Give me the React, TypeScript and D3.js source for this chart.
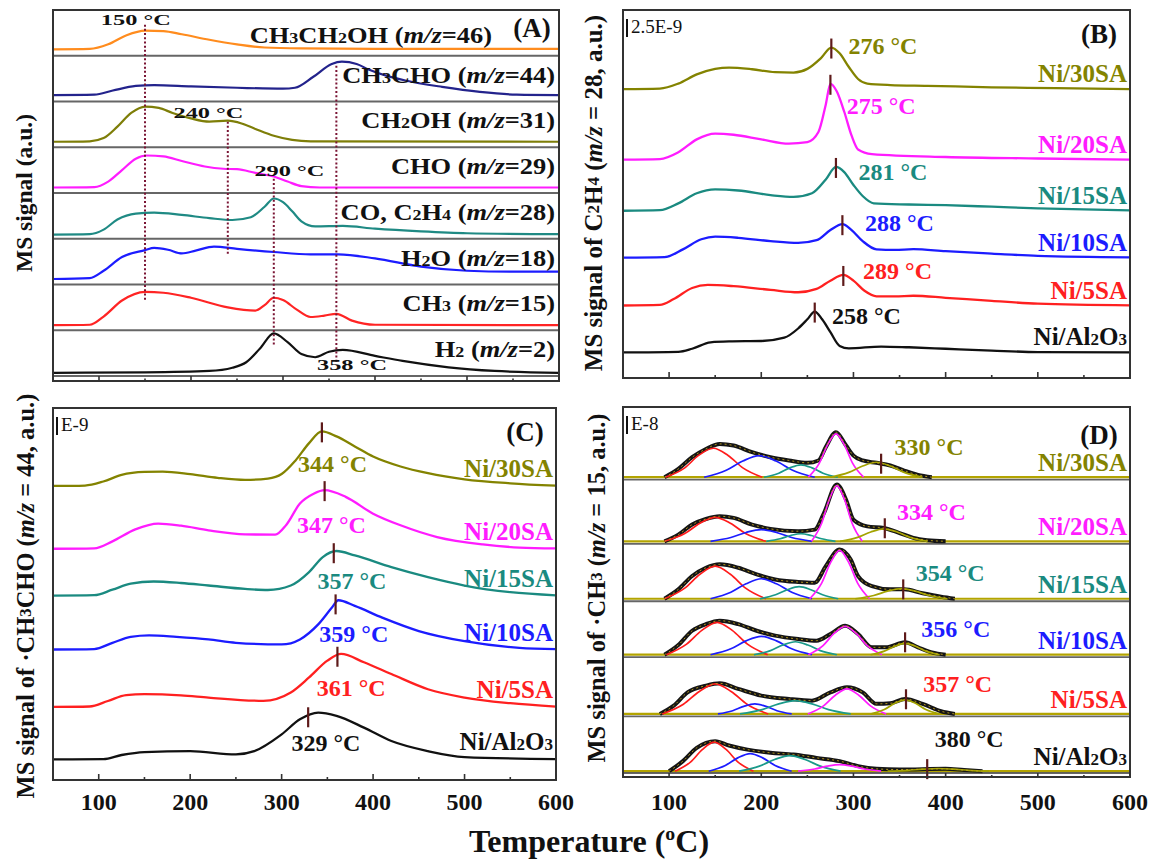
import React from 'react'
import * as d3 from 'd3'

type Pt = [number, number]

const FONT = '"Liberation Serif", "Times New Roman", serif'

// temperature axis (°C)
const tempMajor = [100, 200, 300, 400, 500, 600]
const tempMinor = [150, 250, 350, 450, 550]

// ---------- (A) fragments, each curve in its own strip (0 = strip bottom, 1 = strip top)
const aLabels = ['CH_3CH_2OH (*m/z*=46)', 'CH_3CHO (*m/z*=44)', 'CH_2OH (*m/z*=31)', 'CHO (*m/z*=29)',
  'CO, C_2H_4 (*m/z*=28)', 'H_2O (*m/z*=18)', 'CH_3 (*m/z*=15)', 'H_2 (*m/z*=2)']
const aColors = ['#ff8c1e', '#23238c', '#7e7e08', '#ff1cff', '#1f8a84', '#1c1cff', '#ff2424', '#111111']
const aCH3CH2OH: Pt[] = [[50, .14], [90, .15], [110, .25], [130, .45], [150, .55], [170, .54], [190, .47], [220, .35], [250, .25], [280, .18], [320, .16], [400, .15], [600, .15]]
const aCH3CHO: Pt[] = [[50, .14], [95, .15], [115, .24], [140, .34], [160, .36], [200, .33], [250, .3], [300, .28], [313, .3], [333, .54], [353, .82], [364, .87], [380, .82], [393, .7], [413, .56], [433, .46], [473, .32], [514, .21], [554, .15], [600, .14]]
const aCH2OH: Pt[] = [[50, .12], [90, .13], [105, .2], [120, .45], [135, .75], [150, .89], [165, .86], [180, .75], [200, .63], [220, .56], [240, .58], [255, .52], [270, .4], [290, .25], [310, .16], [330, .13], [600, .12]]
const aCHO: Pt[] = [[50, .12], [95, .13], [110, .25], [125, .5], [140, .75], [152, .82], [170, .8], [190, .7], [215, .58], [235, .53], [250, .52], [270, .44], [290, .36], [305, .25], [320, .15], [340, .12], [600, .12]]
const aCO: Pt[] = [[50, .09], [90, .1], [105, .2], [120, .42], [140, .55], [160, .57], [190, .52], [220, .45], [245, .41], [265, .47], [280, .7], [290, .88], [300, .8], [310, .6], [320, .38], [335, .27], [365, .28], [400, .22], [450, .16], [500, .12], [600, .1]]
const aH2O: Pt[] = [[50, .12], [90, .14], [105, .3], [125, .6], [150, .75], [160, .8], [175, .76], [190, .68], [205, .74], [225, .83], [250, .78], [290, .71], [330, .66], [360, .66], [400, .57], [450, .39], [500, .3], [550, .28], [600, .28]]
const aCH3: Pt[] = [[50, .11], [90, .12], [105, .3], [125, .65], [150, .84], [170, .82], [200, .71], [240, .5], [270, .43], [280, .55], [290, .71], [300, .66], [315, .45], [330, .29], [345, .32], [358, .36], [375, .21], [400, .12], [600, .11]]
const aH2: Pt[] = [[50, .07], [150, .08], [220, .11], [245, .18], [260, .3], [275, .6], [290, .93], [305, .74], [320, .48], [335, .41], [350, .53], [365, .57], [400, .44], [430, .33], [480, .19], [530, .11], [600, .07]]
const aSeries = [aCH3CH2OH, aCH3CHO, aCH2OH, aCHO, aCO, aH2O, aCH3, aH2]
// dotted guide lines: temperature, [strip, level] from -> to
const aGuideT = [150, 240, 290, 358]
const aGuideSpan: [[number, number], [number, number]][] = [[[0, .68], [6, .65]], [[2, .56], [5, .65]], [[3, .31], [7, .68]], [[1, .78], [7, .29]]]
const aGuideText = ['150 °C', '240 °C', '290 °C', '358 °C']
const aGuideTextAt: [number, number, number][] = [[140, 0, .79], [219, 2, .74], [307, 3, .48], [375, 7, .25]]

// ---------- sample names shared by (B), (C), (D)
const samples = ['Ni/30SA', 'Ni/20SA', 'Ni/15SA', 'Ni/10SA', 'Ni/5SA', 'Ni/Al_2O_3']
const sampleColors = ['#838300', '#ff1cff', '#1a8a80', '#1c1cff', '#ff2020', '#111111']

// ---------- (B) C2H4, m/z = 28 (1 unit = 2.5E-9)
const b30: Pt[] = [[50, 0], [90, .03], [110, .3], [130, .8], [150, 1.1], [165, 1.17], [190, 1.08], [215, .92], [235, .9], [250, 1.1], [265, 1.7], [276, 2.26], [285, 1.95], [295, 1.2], [305, .55], [315, .3], [340, .22], [380, .18], [450, .1], [520, .05], [600, 0]]
const b20: Pt[] = [[50, 0], [90, .03], [110, .4], [130, 1.1], [150, 1.41], [170, 1.35], [200, 1.1], [230, .87], [250, .95], [262, 1.5], [270, 3.0], [275, 4.12], [282, 3.7], [290, 2.6], [298, 1.3], [305, .55], [320, .3], [400, .14], [500, .06], [600, 0]]
const b15: Pt[] = [[50, 0], [90, .03], [110, .4], [130, .95], [150, 1.16], [175, 1.1], [210, .85], [235, .75], [255, .95], [270, 1.7], [281, 2.38], [290, 2.1], [300, 1.4], [310, .8], [322, .4], [360, .34], [400, .3], [450, .22], [500, .13], [600, .02]]
const b10: Pt[] = [[50, 0], [95, .03], [115, .45], [135, 1.0], [150, 1.14], [175, 1.08], [210, .9], [240, .8], [260, .95], [275, 1.5], [288, 1.82], [298, 1.5], [310, .9], [325, .45], [345, .42], [365, .46], [400, .35], [450, .22], [500, .1], [600, .02]]
const b5: Pt[] = [[50, 0], [90, .03], [105, .35], [125, .95], [142, 1.12], [170, 1.05], [210, .85], [240, .72], [260, .9], [275, 1.35], [289, 1.66], [300, 1.35], [312, .8], [325, .5], [345, .5], [365, .53], [400, .42], [450, .25], [500, .1], [600, .01]]
const bAl: Pt[] = [[50, 0], [110, .03], [125, .2], [145, .55], [165, .6], [200, .62], [225, .8], [240, 1.3], [250, 1.8], [258, 2.22], [266, 1.8], [275, 1.1], [285, .35], [295, .22], [330, .32], [360, .28], [400, .2], [450, .1], [500, .02], [600, 0]]
const bOffsets = [15.7, 11.87, 9.09, 6.54, 3.94, 1.39]
const bPeaks = [276, 275, 281, 288, 289, 258]
const bLabelAt: Pt[] = [[294.6, 18.07], [292.7, 14.76], [305.4, 11.2], [312.5, 8.44], [310.4, 5.84], [276.7, 3.38]]

// ---------- (C) CH3CHO, m/z = 44 (1 unit = 1E-9)
const c30: Pt[] = [[50, 0], [85, .03], [105, .3], [125, .75], [150, .95], [170, .97], [200, .8], [230, .55], [260, .41], [285, .5], [300, .8], [315, 1.7], [330, 2.88], [344, 3.67], [360, 3.33], [380, 2.66], [400, 1.98], [430, 1.31], [460, .86], [500, .45], [550, .18], [600, .02]]
const c20: Pt[] = [[50, 0], [95, .03], [115, .5], [140, 1.3], [165, 1.69], [190, 1.55], [220, 1.24], [260, .97], [293, .95], [305, 1.6], [320, 3.04], [335, 3.7], [347, 3.94], [370, 3.49], [400, 2.36], [430, 1.58], [470, .79], [520, .29], [560, .08], [600, .02]]
const c15: Pt[] = [[50, 0], [95, .03], [115, .4], [135, .8], [160, .95], [190, .85], [220, .68], [260, .45], [285, .38], [310, .68], [330, 1.58], [345, 2.59], [360, 3.0], [380, 2.7], [420, 1.91], [460, 1.24], [500, .68], [550, .23], [600, .02]]
const c10: Pt[] = [[50, 0], [95, .03], [115, .45], [135, .85], [155, .95], [185, .85], [220, .68], [250, .45], [300, .34], [320, .68], [340, 1.69], [355, 2.82], [362, 3.31], [380, 2.93], [410, 2.14], [450, 1.24], [500, .56], [560, .11], [600, .02]]
const c5: Pt[] = [[50, 0], [90, .03], [110, .4], [130, .8], [150, .86], [190, .78], [220, .63], [280, .41], [310, .97], [330, 1.98], [350, 3.11], [365, 3.56], [390, 3.0], [420, 2.21], [460, 1.19], [500, .63], [550, .25], [600, .02]]
const cAl: Pt[] = [[50, 0], [105, .02], [125, .3], [150, .5], [200, .56], [250, .34], [270, .56], [300, 1.69], [320, 2.7], [340, 3.15], [360, 2.93], [390, 2.14], [420, 1.24], [460, .56], [500, .16], [600, .02]]
const cOffsets = [19.76, 15.54, 12.39, 8.77, 4.91, 1.38]
const cPeaks = [344, 347, 357, 359, 361, 329]
const cLabelAt: Pt[] = [[318, 21.24], [316.8, 17.12], [339.2, 13.36], [341.2, 9.8], [338.3, 6.19], [310.8, 2.48]]

// ---------- (D) CH3, m/z = 15 (1 unit = 1E-8): measured trace + fitted peaks
const dTotals: Pt[][] = [
  [[50, 0], [95, 0], [110, .46], [125, 1.11], [140, 1.57], [155, 1.85], [170, 1.76], [190, 1.39], [210, 1.11], [230, .93], [250, .8], [262, .93], [270, 1.67], [281, 2.5], [292, 1.76], [300, 1.2], [310, .93], [325, .8], [340, .65], [355, .37], [370, .13], [385, 0]],
  [[50, 0], [95, 0], [110, .37], [125, .93], [140, 1.24], [155, 1.39], [170, 1.3], [190, .93], [210, .69], [240, .56], [258, .65], [268, 1.57], [282, 3.15], [292, 2.31], [300, 1.2], [315, .83], [333, .74], [350, .46], [365, .19], [380, .06], [400, 0]],
  [[50, 0], [95, 0], [110, .52], [125, 1.26], [140, 1.72], [155, 1.91], [175, 1.72], [195, 1.35], [215, 1.07], [240, .93], [258, .89], [270, 1.81], [285, 2.74], [297, 2.18], [305, 1.26], [320, .7], [340, .52], [355, .52], [375, .3], [395, .11], [410, 0]],
  [[50, 0], [95, 0], [110, .54], [125, 1.33], [140, 1.7], [155, 1.89], [175, 1.7], [195, 1.33], [215, 1.06], [240, .87], [260, .78], [275, 1.15], [291, 1.61], [305, 1.15], [320, .41], [335, .41], [356, .69], [370, .41], [385, .13], [400, 0]],
  [[50, 0], [90, 0], [105, .46], [120, 1.2], [140, 1.57], [155, 1.7], [175, 1.39], [200, 1.02], [230, .83], [255, .74], [275, 1.2], [293, 1.48], [310, 1.2], [325, .56], [340, .59], [356, .83], [375, .56], [395, .15], [410, 0]],
  [[50, 0], [100, 0], [115, .56], [130, 1.3], [150, 1.67], [165, 1.43], [185, 1.2], [210, 1.02], [235, .93], [260, .74], [285, .56], [305, .28], [325, .13], [350, .09], [400, .13], [420, .06], [440, 0]],
]
// fitted components per sample: ~150, ~195, ~240, ~285 and high-temperature peak
const dFits: Pt[][][] = [
  [
    [[96, 0], [117, .52], [132, 1.21], [148, 1.61], [164, 1.21], [180, .52], [201, 0]],
    [[138, 0], [162, .39], [180, .9], [198, 1.2], [216, .9], [234, .39], [258, 0]],
    [[203, 0], [219, .22], [231, .52], [243, .69], [255, .52], [267, .22], [283, 0]],
    [[251, 0], [263, .78], [272, 1.81], [281, 2.41], [290, 1.81], [299, .78], [311, 0]],
    [[275, 0], [295, .27], [310, .62], [325, .83], [340, .62], [355, .27], [375, 0]],
  ],
  [
    [[95, 0], [117, .43], [133.5, 1.0], [150, 1.33], [166.5, 1.0], [183, .43], [205, 0]],
    [[145, 0], [167, .21], [183.5, .49], [200, .65], [216.5, .49], [233, .21], [255, 0]],
    [[205.5, 0], [220.5, .14], [231.8, .32], [243, .43], [254.3, .32], [265.5, .14], [280.5, 0]],
    [[254.5, 0], [265.5, 1.0], [273.8, 2.32], [282, 3.09], [290.3, 2.32], [298.5, 1.0], [309.5, 0]],
    [[285.5, 0], [304.5, .22], [318.8, .52], [333, .69], [347.3, .52], [361.5, .22], [380.5, 0]],
  ],
  [
    [[95, 0], [117, .59], [133.5, 1.36], [150, 1.81], [166.5, 1.36], [183, .59], [205, 0]],
    [[145, 0], [167, .36], [183.5, .83], [200, 1.11], [216.5, .83], [233, .36], [255, 0]],
    [[198.5, 0], [215.5, .22], [228.3, .5], [241, .67], [253.8, .5], [266.5, .22], [283.5, 0]],
    [[252.5, 0], [265.5, .87], [275.3, 2.02], [285, 2.69], [294.8, 2.02], [304.5, .87], [317.5, 0]],
    [[302, 0], [322, .18], [337, .42], [352, .56], [367, .42], [382, .18], [402, 0]],
  ],
  [
    [[97, 0], [119, .59], [135.5, 1.35], [152, 1.8], [168.5, 1.35], [185, .59], [207, 0]],
    [[145, 0], [167, .33], [183.5, .77], [200, 1.02], [216.5, .77], [233, .33], [255, 0]],
    [[192, 0], [210, .23], [223.5, .54], [237, .72], [250.5, .54], [264, .23], [282, 0]],
    [[251, 0], [267, .51], [279, 1.18], [291, 1.57], [303, 1.18], [315, .51], [331, 0]],
    [[318.5, 0], [333.5, .2], [344.8, .47], [356, .63], [367.3, .47], [378.5, .2], [393.5, 0]],
  ],
  [
    [[92.5, 0], [115.5, .54], [132.8, 1.25], [150, 1.67], [167.3, 1.25], [184.5, .54], [207.5, 0]],
    [[153, 0], [169, .18], [181, .42], [193, .56], [205, .42], [217, .18], [233, 0]],
    [[177, 0], [201, .24], [219, .56], [237, .74], [255, .56], [273, .24], [297, 0]],
    [[250.5, 0], [267.5, .45], [280.3, 1.04], [293, 1.39], [305.8, 1.04], [318.5, .45], [335.5, 0]],
    [[318.5, 0], [333.5, .25], [344.8, .59], [356, .78], [367.3, .59], [378.5, .25], [393.5, 0]],
  ],
  [
    [[106.5, 0], [123.5, .52], [136.3, 1.21], [149, 1.61], [161.8, 1.21], [174.5, .52], [191.5, 0]],
    [[143, 0], [161, .32], [174.5, .74], [188, .98], [201.5, .74], [215, .32], [233, 0]],
    [[176, 0], [198, .28], [214.5, .65], [231, .87], [247.5, .65], [264, .28], [286, 0]],
    [[240, 0], [258, .12], [271.5, .28], [285, .37], [298.5, .28], [312, .12], [330, 0]],
    [[337, 0], [359, .05], [375.5, .11], [392, .15], [408.5, .11], [425, .05], [447, 0]],
  ],
]
const fitColors = ['#ff1c1c', '#1c1cff', '#1a9a8a', '#ff1cff', '#a3a300']
const dOffsets = [16.43, 12.87, 9.68, 6.57, 3.28, 0.1]
const dPeaks = [330, 334, 354, 356, 357, 380]
const dLabelAt: Pt[] = [[344.6, 18.13], [347.2, 14.52], [367.6, 11.13], [373.6, 7.98], [375.6, 4.94], [388.2, 1.87]]

// ---------------------------------------------------------------
// "_3" -> subscript char, "^o" -> superscript char, "*...*" -> italic
function rich(str: string, size: number) {
  const parts: React.ReactNode[] = []
  let italic = false, buf = '', k = 0, pend = 0
  const push = (text: string, fs?: number) => {
    parts.push(<tspan key={k++} fontStyle={italic ? 'italic' : undefined} fontSize={fs} dy={pend || undefined}>{text}</tspan>)
    pend = 0
  }
  const flush = () => { if (buf) { push(buf); buf = '' } }
  for (let i = 0; i < str.length; i++) {
    const c = str[i]
    if (c === '*') { flush(); italic = !italic }
    else if (c === '_') { flush(); push(str[++i], size * 0.68) }
    else if (c === '^') { flush(); pend = -size * 0.38; push(str[++i], size * 0.62); pend = size * 0.38 }
    else buf += c
  }
  flush()
  return parts
}

const valAt = (pts: Pt[], t: number) => {
  const i = d3.bisector((d: Pt) => d[0]).left(pts, t)
  if (i <= 0) return pts[0][1]
  if (i >= pts.length) return pts[pts.length - 1][1]
  const [x0, y0] = pts[i - 1], [x1, y1] = pts[i]
  return y0 + (y1 - y0) * (t - x0) / (x1 - x0)
}

function TempAxis({ x, y, major, minor, labels, frameY }: any) {
  // ticks point up from the axis line
  return (
    <g stroke="#333" strokeWidth={1.6}>
      {frameY !== undefined && <line x1={x.range()[0]} x2={x.range()[1]} y1={frameY} y2={frameY} />}
      <line x1={x.range()[0]} x2={x.range()[1]} y1={y} y2={y} strokeWidth={2} />
      {tempMajor.map(t => <line key={t} x1={x(t)} x2={x(t)} y1={y} y2={y - major} />)}
      {tempMinor.map(t => <line key={t} x1={x(t)} x2={x(t)} y1={y} y2={y - minor} />)}
      {labels && tempMajor.map(t => (
        <text key={'l' + t} x={x(t)} y={810} textAnchor="middle" fontSize={24} fontWeight="bold" stroke="none" fill="#111">{t}</text>
      ))}
    </g>
  )
}

function PanelA() {
  const L = 53, R = 559, T0 = 10, B0 = 376
  const x = d3.scaleLinear().domain([50, 600]).range([L, R])
  const h = (B0 - T0) / aSeries.length
  const ys = aSeries.map((_, i) => d3.scaleLinear().domain([0, 1]).range([T0 + (i + 1) * h, T0 + i * h]))
  return (
    <g>
      {ys.map((y, i) => i > 0 && <line key={i} x1={L} x2={R} y1={y(1)} y2={y(1)} stroke="#666" strokeWidth={2.2} />)}
      {aSeries.map((s, i) => {
        const line = d3.line<Pt>().x(d => x(d[0])).y(d => ys[i](d[1])).curve(d3.curveMonotoneX)
        return <path key={i} d={line(s) || ''} fill="none" stroke={aColors[i]} strokeWidth={2.2} />
      })}
      {aGuideT.map((t, i) => {
        const [[s0, v0], [s1, v1]] = aGuideSpan[i]
        return <line key={t} x1={x(t)} x2={x(t)} y1={ys[s0](v0)} y2={ys[s1](v1)} stroke="#7a1434" strokeWidth={2} strokeDasharray="2,2.2" />
      })}
      {aGuideText.map((s, i) => {
        const [t, si, v] = aGuideTextAt[i]
        return <text key={s} x={x(t) - 35} y={ys[si](v) + 5} textLength={70} lengthAdjust="spacingAndGlyphs" fontSize={15} fontWeight="bold" fill="#111">{s}</text>
      })}
      {aLabels.map((s, i) => (
        <text key={s} transform={`translate(${i === 0 ? 492 : R - 4},${ys[i](0.5) + (i === 0 ? 10 : 4)}) scale(1.15,1)`}
          textAnchor="end" fontSize={23} fontWeight="bold" fill="#111">{rich(s, 23)}</text>
      ))}
      <text x={532} y={37} textAnchor="middle" fontSize={27} fontWeight="bold" fill="#111">(A)</text>
      <rect x={L} y={T0} width={R - L} height={381 - T0} fill="none" stroke="#333" strokeWidth={2} />
      <TempAxis x={x} y={381} major={5} minor={2.5} frameY={B0} />
    </g>
  )
}

function StackPanel({ L, R, T0, B0, top, curves, offsets, peaks, labelAt, nameDy, scaleText, letter }: any) {
  const x = d3.scaleLinear().domain([50, 600]).range([L, R])
  const y = d3.scaleLinear().domain([0, top]).range([B0, T0])
  return (
    <g>
      {curves.map((c: Pt[], i: number) => {
        const off = offsets[i]
        const line = d3.line<Pt>().x(d => x(d[0])).y(d => y(d[1] + off)).curve(d3.curveMonotoneX)
        return <path key={i} d={line(c) || ''} fill="none" stroke={sampleColors[i]} strokeWidth={2.3} />
      })}
      {curves.map((c: Pt[], i: number) => {
        const py = y(offsets[i] + valAt(c, peaks[i]))
        return <line key={'t' + i} x1={x(peaks[i])} x2={x(peaks[i])} y1={py - 9} y2={py + 11} stroke="#5e1a1a" strokeWidth={2.2} />
      })}
      {labelAt.map((p: Pt, i: number) => (
        <text key={'p' + i} x={x(p[0])} y={y(p[1])} dominantBaseline="central" fontSize={24} fontWeight="bold" fill={sampleColors[i]}>{peaks[i]} °C</text>
      ))}
      {samples.map((s, i) => (
        <text key={s} x={R - 3} y={y(offsets[i]) - nameDy} textAnchor="end" fontSize={25} fontWeight="bold" fill={sampleColors[i]}>{rich(s, 25)}</text>
      ))}
      <line x1={L + 4} x2={L + 4} y1={T0 + 9} y2={T0 + 27} stroke="#111" strokeWidth={2} />
      <text x={L + 8} y={T0 + 23} fontSize={19} fill="#111">{scaleText}</text>
      <text x={R - 31} y={T0 + 33} textAnchor="middle" fontSize={27} fontWeight="bold" fill="#111">{letter}</text>
      <rect x={L} y={T0} width={R - L} height={B0 - T0} fill="none" stroke="#333" strokeWidth={2} />
      <TempAxis x={x} y={B0} major={6} minor={3} labels={letter === '(C)'} />
    </g>
  )
}

function PanelD() {
  const L = 623, R = 1130, T0 = 407, B0 = 773
  const x = d3.scaleLinear().domain([50, 600]).range([L, R])
  const y = d3.scaleLinear().domain([0, 20.33]).range([B0, T0])
  return (
    <g>
      {dOffsets.map((off, i) => i < 5 && <line key={'s' + i} x1={L} x2={R} y1={y(off) + 2.5} y2={y(off) + 2.5} stroke="#666" strokeWidth={1.8} />)}
      {dTotals.map((tot, i) => {
        const off = dOffsets[i]
        const line = d3.line<Pt>().x(d => x(d[0])).y(d => y(d[1] + off)).curve(d3.curveMonotoneX)
        return (
          <g key={i}>
            <line x1={L} x2={R} y1={y(off)} y2={y(off)} stroke="#b3a400" strokeWidth={2.2} />
            <path d={line(tot.filter(p => p[0] >= 80)) || ''} fill="none" stroke="#151515" strokeWidth={4} />
            {dFits[i].map((f, j) => (
              <path key={j} d={line(f) || ''} fill="none" stroke={fitColors[j]} strokeWidth={1.7} />
            ))}
            <path d={line(tot.filter(p => p[0] >= 80)) || ''} fill="none" stroke="#c2a21c" strokeWidth={0.9} strokeDasharray="2,3" />
          </g>
        )
      })}
      {dTotals.map((tot, i) => {
        const py = y(dOffsets[i] + valAt(tot, dPeaks[i]))
        return <line key={'t' + i} x1={x(dPeaks[i])} x2={x(dPeaks[i])} y1={py - 10} y2={py + 10} stroke="#5e1a1a" strokeWidth={2.2} />
      })}
      {dLabelAt.map((p, i) => (
        <text key={'p' + i} x={x(p[0])} y={y(p[1])} dominantBaseline="central" fontSize={24} fontWeight="bold" fill={sampleColors[i]}>{dPeaks[i]} °C</text>
      ))}
      {samples.map((s, i) => (
        <text key={s} x={R - 3} y={y(dOffsets[i]) - 6} textAnchor="end" fontSize={25} fontWeight="bold" fill={sampleColors[i]}>{rich(s, 25)}</text>
      ))}
      <line x1={L + 4} x2={L + 4} y1={T0 + 9} y2={T0 + 27} stroke="#111" strokeWidth={2} />
      <text x={L + 8} y={T0 + 23} fontSize={19} fill="#111">E-8</text>
      <text x={R - 31} y={T0 + 37} textAnchor="middle" fontSize={27} fontWeight="bold" fill="#111">(D)</text>
      <rect x={L} y={T0} width={R - L} height={B0 + 4 - T0} fill="none" stroke="#333" strokeWidth={2} />
      <TempAxis x={x} y={B0 + 4} major={4} minor={2} frameY={B0} labels />
    </g>
  )
}

function YTitle({ x, y, text, size }: { x: number, y: number, text: string, size: number }) {
  return (
    <text transform={`translate(${x},${y}) rotate(-90)`} textAnchor="middle" dominantBaseline="central" fontSize={size} fontWeight="bold" fill="#111">{rich(text, size)}</text>
  )
}

export default function App() {
  return (
    <svg width={1149} height={861} viewBox="0 0 1149 861" fontFamily={FONT}
      style={{ position: 'absolute', left: 0, top: 0, display: 'block', background: '#fff' }}>
      <rect width={1149} height={861} fill="#fff" />
      <PanelA />
      <StackPanel L={623} R={1130} T0={10} B0={378} top={20} curves={[b30, b20, b15, b10, b5, bAl]}
        offsets={bOffsets} peaks={bPeaks} labelAt={bLabelAt} nameDy={7} scaleText="2.5E-9" letter="(B)" />
      <StackPanel L={53} R={556} T0={408} B0={780} top={25} curves={[c30, c20, c15, c10, c5, cAl]}
        offsets={cOffsets} peaks={cPeaks} labelAt={cLabelAt} nameDy={9} scaleText="E-9" letter="(C)" />
      <PanelD />
      <YTitle x={24} y={193} size={23.5} text="MS signal (a.u.)" />
      <YTitle x={593} y={193} size={25} text="MS signal of C_2H_4 (*m/z* = 28, a.u.)" />
      <YTitle x={25} y={596} size={24.5} text="MS signal of ·CH_3CHO (*m/z* = 44, a.u.)" />
      <YTitle x={596} y={588} size={24.5} text="MS signal of ·CH_3 (*m/z* = 15, a.u.)" />
      <text x={589} y={852} textAnchor="middle" fontSize={32} fontWeight="bold" fill="#111">{rich('Temperature (^oC)', 32)}</text>
    </svg>
  )
}
